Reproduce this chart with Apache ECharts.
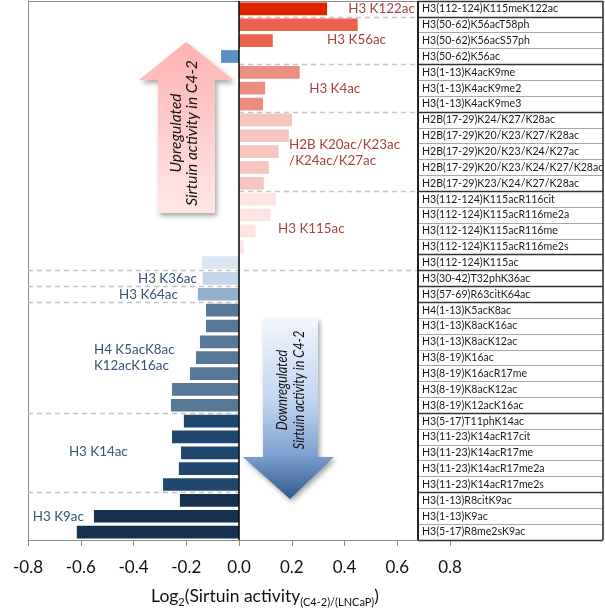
<!DOCTYPE html>
<html>
<head>
<meta charset="utf-8">
<script src="https://cdn.jsdelivr.net/npm/echarts@6/dist/echarts.min.js"></script>
<style>
html,body{margin:0;padding:0;background:#fff;}
#chart{width:605px;height:612px;}
</style>
</head>
<body>
<div id="chart"></div>
<script>
// ---------- data ----------
const categories = [
  'H3(112-124)K115meK122ac',
  'H3(50-62)K56acT58ph',
  'H3(50-62)K56acS57ph',
  'H3(50-62)K56ac',
  'H3(1-13)K4acK9me',
  'H3(1-13)K4acK9me2',
  'H3(1-13)K4acK9me3',
  'H2B(17-29)K24/K27/K28ac',
  'H2B(17-29)K20/K23/K27/K28ac',
  'H2B(17-29)K20/K23/K24/K27ac',
  'H2B(17-29)K20/K23/K24/K27/K28ac',
  'H2B(17-29)K23/K24/K27/K28ac',
  'H3(112-124)K115acR116cit',
  'H3(112-124)K115acR116me2a',
  'H3(112-124)K115acR116me',
  'H3(112-124)K115acR116me2s',
  'H3(112-124)K115ac',
  'H3(30-42)T32phK36ac',
  'H3(57-69)R63citK64ac',
  'H4(1-13)K5acK8ac',
  'H3(1-13)K8acK16ac',
  'H3(1-13)K8acK12ac',
  'H3(8-19)K16ac',
  'H3(8-19)K16acR17me',
  'H3(8-19)K8acK12ac',
  'H3(8-19)K12acK16ac',
  'H3(5-17)T11phK14ac',
  'H3(11-23)K14acR17cit',
  'H3(11-23)K14acR17me',
  'H3(11-23)K14acR17me2a',
  'H3(11-23)K14acR17me2s',
  'H3(1-13)R8citK9ac',
  'H3(1-13)K9ac',
  'H3(5-17)R8me2sK9ac'
];
const values = [
  0.334,
  0.45, 0.128, -0.068,
  0.23, 0.099, 0.091,
  0.201, 0.189, 0.15, 0.113, 0.094,
  0.14, 0.12, 0.063, 0.018, -0.14,
  -0.138,
  -0.156,
  -0.125, -0.125, -0.148, -0.163, -0.186, -0.254, -0.258,
  -0.209, -0.254, -0.22, -0.228, -0.288,
  -0.224, -0.55, -0.615
];
const groupLabels = [
  'H3 K122ac', 'H3 K56ac', 'H3 K4ac', 'H2B K20ac/K23ac\n/K24ac/K27ac', 'H3 K115ac',
  'H3 K36ac', 'H3 K64ac', 'H4 K5acK8ac\nK12acK16ac', 'H3 K14ac', 'H3 K9ac'
];
const xAxisTitle = '{a|Log}{s|2}{a|(Sirtuin activity}{s|(C4-2)/(LNCaP)}{a|)}';
const upText = 'Upregulated\nSirtuin activity in C4-2';
const downText = 'Downregulated\nSirtuin activity in C4-2';

// ---------- styles ----------
const pal = {
  k122:'#DF2200', k56:'#E8624D', k4:'#EC8D81', h2b:'#F5C5C0', k115:'#FCE4E2',
  b56:'#5B8FC8', b115:'#DDE7F3', k36:'#C5D6EB', k64:'#94AFCB', h4:'#577896',
  k14:'#1F4770', k9:'#16304F'
};
const rowColors = [
  pal.k122,
  pal.k56, pal.k56, pal.b56,
  pal.k4, pal.k4, pal.k4,
  pal.h2b, pal.h2b, pal.h2b, pal.h2b, pal.h2b,
  pal.k115, pal.k115, pal.k115, pal.k115, pal.b115,
  pal.k36, pal.k64,
  pal.h4, pal.h4, pal.h4, pal.h4, pal.h4, pal.h4, pal.h4,
  pal.k14, pal.k14, pal.k14, pal.k14, pal.k14,
  pal.k9, pal.k9, pal.k9
];
const RED_TXT = '#A9423D', BLUE_TXT = '#35547A';
// annotation anchors in data units (x value, row position)
const labelAnchors = [
  {x:0.414, y:0.47, side:'right', c:RED_TXT},
  {x:0.334, y:2.46, side:'right', c:RED_TXT},
  {x:0.266, y:5.55, side:'right', c:RED_TXT},
  {x:0.19,  y:9.57, side:'right', c:RED_TXT},
  {x:0.148, y:14.36, side:'right', c:RED_TXT},
  {x:-0.16, y:17.49, side:'left', c:BLUE_TXT},
  {x:-0.455, y:18.51, side:'right', c:BLUE_TXT},
  {x:-0.55, y:22.48, side:'right', c:BLUE_TXT},
  {x:-0.645, y:28.44, side:'right', c:BLUE_TXT},
  {x:-0.782, y:32.54, side:'right', c:BLUE_TXT}
];

const FONT = 'Lato';
const N = categories.length;
const X_MIN = -0.8, X_MAX = 0.8;
const TABLE_L = 0.6787, TABLE_R = 1.380;

// dashed group separators
const posSep = [1, 4, 7, 12], fullSep = [17], negSep = [18, 19, 26, 31];
const dashData = [];
posSep.forEach(k => dashData.push({coords:[[0, k], [TABLE_L, k]]}));
fullSep.forEach(k => dashData.push({coords:[[X_MIN, k], [TABLE_L, k]]}));
negSep.forEach(k => dashData.push({coords:[[X_MIN, k], [0, k]]}));

// table lines
const tableDark = [0, 1, 4, 7, 12, 16, 17, 18, 19, 26, 31, 34];
const tableData = [];
for (let k = 0; k <= N; k++) {
  const dark = tableDark.indexOf(k) >= 0;
  tableData.push({coords:[[TABLE_L, k], [TABLE_R, k]],
    lineStyle:{color: dark ? '#333' : '#A8A8A8', width: dark ? 1.3 : 1, opacity:1}});
}
tableData.push({coords:[[TABLE_L, 0], [TABLE_L, N]], lineStyle:{color:'#222', width:2, opacity:1}});
tableData.push({coords:[[TABLE_R, 0], [TABLE_R, N]], lineStyle:{color:'#333', width:1.6, opacity:1}});

const chart = echarts.init(document.getElementById('chart'), null, {renderer:'canvas'});

const option = {
  animation: false,
  backgroundColor: '#fff',
  grid: {left: 28, right: 155, top: 1, bottom: 72, containLabel: false, outerBoundsMode: 'none'},
  xAxis: {
    type: 'value', min: X_MIN, max: X_MAX, interval: 0.2,
    axisLine: {show: true, onZero: false, lineStyle: {color: '#8c8c8c', width: 1}},
    axisTick: {show: true, length: 6, lineStyle: {color: '#8c8c8c'}},
    splitLine: {show: false},
    axisLabel: {formatter: v => v.toFixed(1), fontSize: 17, fontFamily: FONT, color: '#111', margin: 19},
    name: xAxisTitle, nameLocation: 'middle', nameGap: 44,
    nameTextStyle: {
      padding: [0, 0, 0, 52],
      rich: {
        a: {fontSize: 17.5, fontFamily: FONT, color: '#111', lineHeight: 24},
        s: {fontSize: 11, fontFamily: FONT, color: '#111', lineHeight: 10, verticalAlign: 'bottom'}
      }
    }
  },
  yAxis: [
    {
      type: 'category', data: categories, inverse: true, position: 'right', offset: -32,
      axisLine: {show: false, onZero: false}, axisTick: {show: false}, splitLine: {show: false},
      axisLabel: {interval: 0, margin: 4, fontSize: 10.6, fontFamily: FONT, color: '#1a1a1a', align: 'left'}
    },
    {
      type: 'value', min: 0, max: N, inverse: true, position: 'left',
      axisLine: {show: true, onZero: false, lineStyle: {color: '#8c8c8c', width: 1}},
      axisTick: {show: false}, axisLabel: {show: false}, splitLine: {show: false}
    }
  ],
  graphic: [
    {
      type: 'polygon', z: 10,
      shape: {points: [[186, 42], [233, 80], [215, 80], [215, 213], [158, 213], [158, 80], [139, 80]]},
      style: {
        fill: new echarts.graphic.LinearGradient(0, 0, 0, 1, [
          {offset: 0, color: '#FFB1B1'}, {offset: 1, color: '#FFE8E8'}
        ]),
        shadowBlur: 5, shadowColor: 'rgba(0,0,0,0.35)', shadowOffsetX: 2, shadowOffsetY: 3
      }
    },
    {
      type: 'text', z: 11, x: 184, y: 133, rotation: Math.PI / 2,
      style: {text: upText, font: 'italic 15.5px ' + FONT, fill: '#111', align: 'center', verticalAlign: 'middle', lineHeight: 16}
    },
    {
      type: 'polygon', z: 10,
      shape: {points: [[263, 318], [318, 318], [318, 457], [334, 457], [290, 499], [243, 457], [263, 457]]},
      style: {
        fill: new echarts.graphic.LinearGradient(0, 0, 0, 1, [
          {offset: 0, color: '#F1F5FC'}, {offset: 0.45, color: '#C3D6F2'},
          {offset: 0.75, color: '#7FA2D0'}, {offset: 1, color: '#2C5A8C'}
        ]),
        shadowBlur: 5, shadowColor: 'rgba(0,0,0,0.35)', shadowOffsetX: 2, shadowOffsetY: 3
      }
    },
    {
      type: 'text', z: 11, x: 291, y: 390, rotation: Math.PI / 2, scaleX: 0.84,
      style: {text: downText, font: 'italic 15px ' + FONT, fill: '#111', align: 'center', verticalAlign: 'middle', lineHeight: 17}
    }
  ],
  series: [
    {
      type: 'lines', coordinateSystem: 'cartesian2d', xAxisIndex: 0, yAxisIndex: 1,
      silent: true, z: 1, clip: false,
      lineStyle: {color: '#C4C4C4', type: [5, 4], width: 1.3, opacity: 1, curveness: 0},
      data: dashData.concat([{coords: [[X_MIN, 0], [TABLE_L, 0]], lineStyle: {type: 'solid', color: '#8c8c8c', width: 1, opacity: 1}}])
    },
    {
      type: 'bar', xAxisIndex: 0, yAxisIndex: 0, barCategoryGap: '20%', z: 2,
      data: values.map((v, i) => ({value: v, itemStyle: {color: rowColors[i]}}))
    },
    {
      type: 'lines', coordinateSystem: 'cartesian2d', xAxisIndex: 0, yAxisIndex: 1,
      silent: true, z: 4, clip: false,
      lineStyle: {color: '#111', width: 1.6, opacity: 1, curveness: 0},
      data: [{coords: [[0, 0], [0, N]]}]
    },
    {
      type: 'lines', coordinateSystem: 'cartesian2d', xAxisIndex: 0, yAxisIndex: 1,
      silent: true, z: 4, clip: false,
      lineStyle: {opacity: 1, curveness: 0},
      data: tableData
    },
    {
      type: 'scatter', xAxisIndex: 0, yAxisIndex: 1, symbolSize: 0, silent: true, z: 5,
      itemStyle: {opacity: 1},
      data: labelAnchors.map((a, i) => ({
        value: [a.x, a.y],
        label: {
          show: true, position: a.side, distance: 0, formatter: groupLabels[i],
          color: a.c, opacity: 1, fontSize: 13.4, fontFamily: FONT, lineHeight: 16
        }
      }))
    }
  ]
};
chart.setOption(option);
</script>
</body>
</html>
